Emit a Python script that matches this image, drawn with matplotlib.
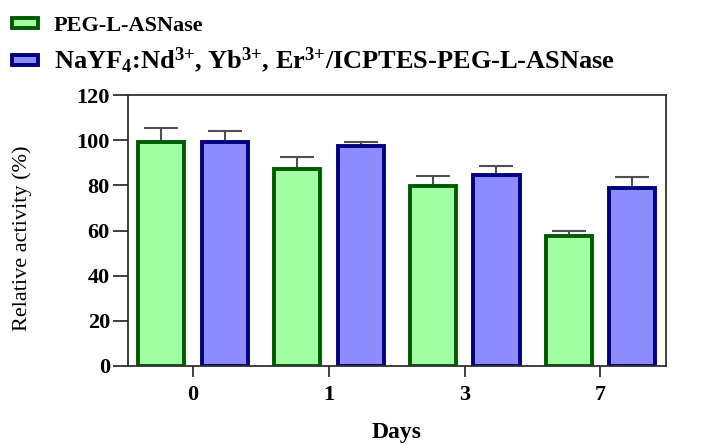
import matplotlib
matplotlib.use("Agg")
import matplotlib.pyplot as plt
import numpy as np

plt.rcParams['font.family'] = ['Liberation Serif', 'DejaVu Serif']
plt.rcParams['mathtext.fontset'] = 'custom'
plt.rcParams['mathtext.rm'] = 'Liberation Serif:bold'
plt.rcParams['mathtext.bf'] = 'Liberation Serif:bold'
plt.rcParams['mathtext.it'] = 'Liberation Serif:bold'

days = ["0", "1", "3", "7"]
peg_mean = [99.3, 87.1, 79.7, 57.6]
peg_err = [6.2, 5.3, 4.6, 2.3]
nano_mean = [99.3, 97.4, 84.7, 78.7]
nano_err = [4.8, 1.8, 3.7, 5.1]
series_labels = ["PEG-L-ASNase",
                 r"NaYF$_{\mathbf{4}}$:Nd$^{\mathbf{3{+}}}$, Yb$^{\mathbf{3{+}}}$, "
                 r"Er$^{\mathbf{3{+}}}$/ICPTES-PEG-L-ASNase"]
yticks = [0, 20, 40, 60, 80, 100, 120]

fig = plt.figure(figsize=(7.15, 4.44), dpi=100)
ax = fig.add_axes([0.179, 0.1757, 0.752, 0.6103])

x = np.arange(len(days))
w = 0.34
off = 0.234
b1 = ax.bar(x - off, peg_mean, w, color="#a0ffa0", edgecolor="#005a00", linewidth=2.8,
            label=series_labels[0], zorder=2)
b2 = ax.bar(x + off, nano_mean, w, color="#8c8cff", edgecolor="#000080", linewidth=2.8,
            label=series_labels[1], zorder=2)
ax.errorbar(x - off, peg_mean, yerr=[np.zeros(4), peg_err], fmt="none", ecolor="#505050",
            elinewidth=1.5, capsize=12, capthick=1.5, zorder=1)
ax.errorbar(x + off, nano_mean, yerr=[np.zeros(4), nano_err], fmt="none", ecolor="#505050",
            elinewidth=1.5, capsize=12, capthick=1.5, zorder=1)

ax.set_xlim(-0.48, 3.48)
ax.set_ylim(0, 120)
ax.set_yticks(yticks)
ax.set_xticks(x)
ax.set_xticklabels(days)
for s in ax.spines.values():
    s.set_linewidth(1.3)
    s.set_color("#303030")
ax.tick_params(axis="both", labelsize=16, width=1.3, color="#303030")
ax.tick_params(axis="y", length=11, pad=2)
ax.tick_params(axis="x", length=8, pad=6)
for lab in ax.get_xticklabels() + ax.get_yticklabels():
    lab.set_fontweight("bold")

ax.set_ylabel("Relative activity (%)", fontsize=16)
ax.yaxis.set_label_coords(-0.178, 0.47)
ax.set_xlabel("Days", fontsize=17, fontweight="bold", labelpad=12)

leg = fig.legend(handles=[b1, b2], loc="upper left", bbox_to_anchor=(12 / 715, 1 - 16 / 444),
                 frameon=False, fontsize=16, handlelength=1.17, handleheight=0.36,
                 handletextpad=0.72, labelspacing=0.4, borderpad=0, borderaxespad=0)
texts = leg.get_texts()
for t in texts:
    t.set_fontweight("bold")
texts[1].set_fontsize(19)

fig.savefig("out.png", dpi=100)
